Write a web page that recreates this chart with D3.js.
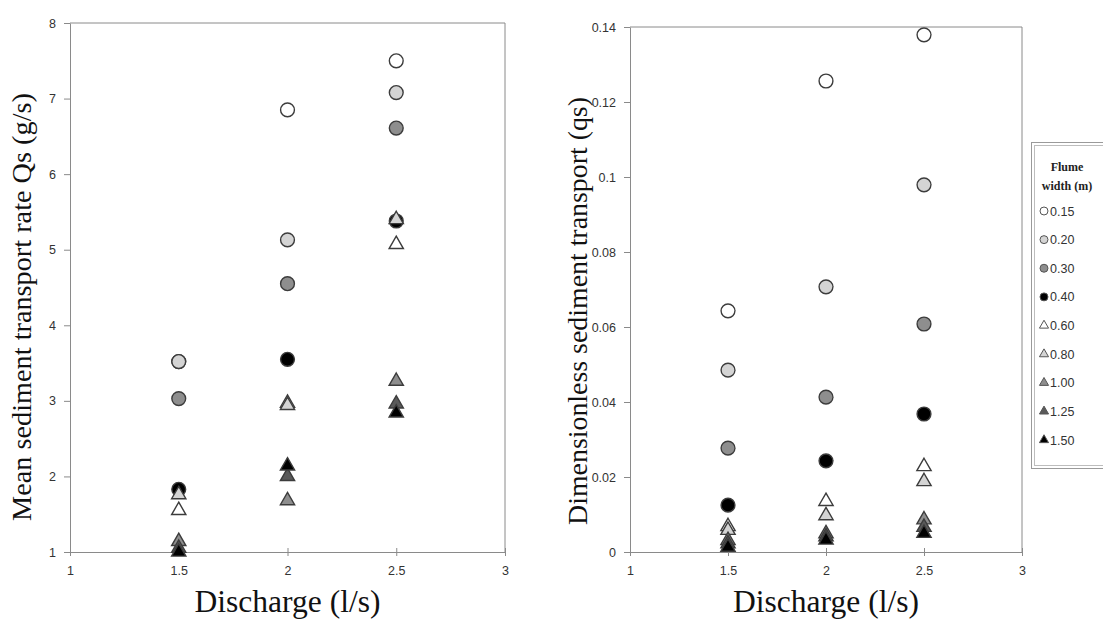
<!DOCTYPE html>
<html>
<head>
<meta charset="utf-8">
<script src="https://cdn.jsdelivr.net/npm/d3@7"></script>
<style>
  html, body { margin: 0; padding: 0; background: #fff; }
  svg { display: block; }
</style>
</head>
<body>
<svg id="chart" width="1103" height="621"></svg>
<script>
// Flume widths (m), one series per width
const flumeWidths = ["0.15", "0.20", "0.30", "0.40", "0.60", "0.80", "1.00", "1.25", "1.50"];
// Discharge (l/s)
const discharge = [1.5, 2, 2.5];

// Mean sediment transport rate Qs (g/s), rows follow flumeWidths
const meanQs = [
  [3.52, 6.85, 7.50],
  [3.52, 5.13, 7.08],
  [3.03, 4.55, 6.61],
  [1.83, 3.55, 5.38],
  [1.55, 2.97, 5.07],
  [1.76, 2.94, 5.40],
  [1.14, 1.68, 3.26],
  [1.05, 2.00, 2.96],
  [1.00, 2.14, 2.84]
];

// Dimensionless sediment transport qs, rows follow flumeWidths
const dimlessQs = [
  [0.0643, 0.1256, 0.1379],
  [0.0485, 0.0707, 0.0979],
  [0.0277, 0.0413, 0.0608],
  [0.0125, 0.0243, 0.0368],
  [0.0068, 0.0135, 0.0228],
  [0.0058, 0.0097, 0.0188],
  [0.0031, 0.0049, 0.0086],
  [0.0022, 0.0041, 0.0066],
  [0.0013, 0.0032, 0.0050]
];

// Axis ticks
const xTickValues = [1, 1.5, 2, 2.5, 3];
const leftYTicks = [1, 2, 3, 4, 5, 6, 7, 8];
const rightYTicks = [0, 0.02, 0.04, 0.06, 0.08, 0.1, 0.12, 0.14];

// Marker look per series
const markerShape = ["circle", "circle", "circle", "circle", "triangle", "triangle", "triangle", "triangle", "triangle"];
const markerFill = ["#ffffff", "#d4d4d4", "#8e8e8e", "#000000", "#ffffff", "#d4d4d4", "#8e8e8e", "#5a5a5a", "#000000"];

const svg = d3.select("#chart");
const axisColor = "#8a8a8a";
const tickFont = "'Liberation Sans', Arial, sans-serif";
const titleFont = "'Liberation Serif', 'Times New Roman', serif";

function markerPath(shape, big) {
  if (shape === "circle") {
    return d3.symbol().type(d3.symbolCircle).size(big ? 150 : 50)();
  }
  return d3.symbol().type(d3.symbolTriangle).size(big ? 88 : 36)();
}

// size a title so that its text spans the given length
function fitText(sel, length) {
  sel.style("font-size", "20px");
  const w = sel.node().getComputedTextLength();
  sel.style("font-size", (20 * length / w).toFixed(2) + "px");
}

function drawPanel(opt) {
  const x = d3.scaleLinear().domain([1, 3]).range([opt.left, opt.right]);
  const y = d3.scaleLinear().domain(opt.yDomain).range([opt.bottom, opt.top]);
  const g = svg.append("g");

  // plot frame: top and right edges
  g.append("path")
    .attr("d", `M${opt.left},${opt.top}H${opt.right}V${opt.bottom}`)
    .attr("fill", "none").attr("stroke", axisColor).attr("stroke-width", 1);

  // y axis
  const yAxis = d3.axisLeft(y).tickValues(opt.yTicks).tickSize(6).tickSizeOuter(0)
    .tickFormat(opt.yFormat).tickPadding(8);
  const ya = g.append("g").attr("transform", `translate(${opt.left},0)`).call(yAxis);

  // x axis
  const xAxis = d3.axisBottom(x).tickValues(xTickValues).tickSize(4).tickSizeOuter(0)
    .tickFormat(d3.format("")).tickPadding(10);
  const xa = g.append("g").attr("transform", `translate(0,${opt.bottom})`).call(xAxis);
  // crossing tick marks on x axis
  xa.selectAll(".tick line").attr("y1", -4);

  [ya, xa].forEach(a => {
    a.select(".domain").attr("stroke", axisColor);
    a.selectAll(".tick line").attr("stroke", axisColor);
    a.selectAll(".tick text").attr("fill", "#333")
      .style("font-family", tickFont).style("font-size", "12.5px");
  });

  // points, drawn series by series
  opt.values.forEach((row, si) => {
    g.append("g").selectAll("path")
      .data(row)
      .join("path")
      .attr("d", markerPath(markerShape[si], true))
      .attr("transform", (v, i) => `translate(${x(discharge[i])},${y(v)})`)
      .attr("fill", markerFill[si])
      .attr("stroke", "#3c3c3c")
      .attr("stroke-width", 1.4);
  });

  // axis titles
  const xt = g.append("text")
    .attr("x", (opt.left + opt.right) / 2)
    .attr("y", 612)
    .attr("text-anchor", "middle")
    .style("font-family", titleFont).attr("fill", "#111")
    .text("Discharge (l/s)");
  fitText(xt, 186);

  const yt = g.append("text")
    .attr("transform", `translate(${opt.yTitleX},${opt.yTitleY}) rotate(-90)`)
    .attr("text-anchor", "middle")
    .style("font-family", titleFont).attr("fill", "#111")
    .text(opt.yTitle);
  fitText(yt, opt.yTitleLen);
}

drawPanel({
  left: 70, right: 505, top: 23, bottom: 552,
  yDomain: [1, 8], yTicks: leftYTicks, yFormat: d3.format("d"),
  values: meanQs,
  yTitle: "Mean sediment transport rate Qs (g/s)", yTitleX: 31, yTitleY: 307, yTitleLen: 428
});

drawPanel({
  left: 630, right: 1022, top: 27, bottom: 552,
  yDomain: [0, 0.14], yTicks: rightYTicks, yFormat: d => d === 0 ? "0" : String(+d.toFixed(2)),
  values: dimlessQs,
  yTitle: "Dimensionless sediment transport (qs)", yTitleX: 587, yTitleY: 311, yTitleLen: 428
});

// legend
const lg = svg.append("g");
lg.append("rect").attr("x", 1031.5).attr("y", 142.5).attr("width", 80).attr("height", 326)
  .attr("fill", "#fff").attr("stroke", "#9a9a9a").attr("stroke-width", 1);
lg.append("rect").attr("x", 1034.5).attr("y", 145.5).attr("width", 80).attr("height", 320)
  .attr("fill", "none").attr("stroke", "#bdbdbd").attr("stroke-width", 1);
lg.append("text").attr("x", 1067).attr("y", 171).attr("text-anchor", "middle")
  .style("font-family", titleFont).style("font-size", "12px").style("font-weight", "bold")
  .attr("fill", "#222").text("Flume");
lg.append("text").attr("x", 1067).attr("y", 190).attr("text-anchor", "middle")
  .style("font-family", titleFont).style("font-size", "12px").style("font-weight", "bold")
  .attr("fill", "#222").text("width (m)");

const legendY = d3.scalePoint().domain(flumeWidths).range([211, 440]);
const items = lg.selectAll("g.item").data(flumeWidths).join("g").attr("class", "item")
  .attr("transform", d => `translate(0,${legendY(d)})`);
items.append("path")
  .attr("d", (d, i) => markerPath(markerShape[i], false))
  .attr("transform", "translate(1044,0)")
  .attr("fill", (d, i) => markerFill[i])
  .attr("stroke", "#555").attr("stroke-width", 1);
items.append("text").attr("x", 1050).attr("y", 4.5)
  .style("font-family", tickFont).style("font-size", "12.5px").attr("fill", "#333")
  .text(d => d);
</script>
</body>
</html>
